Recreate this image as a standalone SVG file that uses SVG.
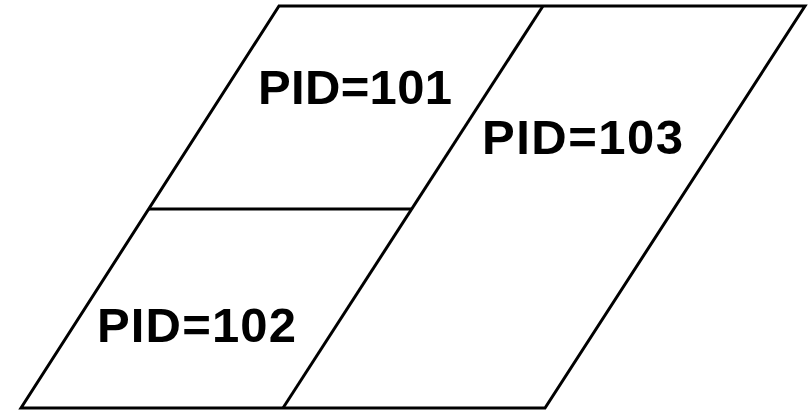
<svg xmlns="http://www.w3.org/2000/svg" width="812" height="411" viewBox="0 0 812 411">
<style>
.ln{stroke:#000;stroke-width:3;fill:none;stroke-linecap:butt;stroke-linejoin:miter}
.t{font-family:"Liberation Sans",Arial,sans-serif;font-weight:bold;font-size:49px;fill:#000}
</style>
<rect width="812" height="411" fill="#fff"/>
<g id="connectors">
<polygon class="ln" points="279,6 805,6 545,408 21,408"/>
<line class="ln" x1="543" y1="6" x2="283" y2="408"/>
<line class="ln" x1="149" y1="209" x2="412" y2="209"/>
</g>
<g id="pid101"><text class="t" x="258" y="104" textLength="194" lengthAdjust="spacing">PID=101</text></g>
<g id="pid103"><text class="t" x="482" y="154" textLength="201" lengthAdjust="spacing">PID=103</text></g>
<g id="pid102"><text class="t" x="97" y="342" textLength="199" lengthAdjust="spacing">PID=102</text></g>
</svg>
